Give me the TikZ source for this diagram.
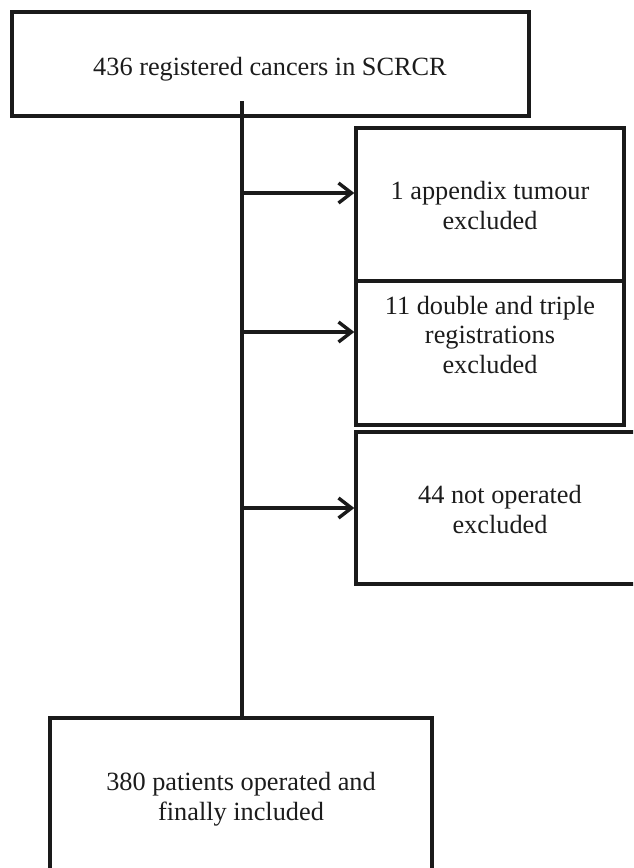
\documentclass[tikz,border=0pt]{standalone}
\usepackage{fontspec}
\setmainfont{Liberation Serif}
\usetikzlibrary{arrows.meta}
\definecolor{ink}{HTML}{1A1A1A}
\definecolor{textink}{HTML}{1C1C1C}
\begin{document}
\begin{tikzpicture}[x=1pt,y=-1pt,
  box/.style={draw=ink, line width=3.4pt, rectangle, inner sep=0pt, fill=white},
  txt/.style={font=\fontsize{26.3}{29.5}\selectfont, align=center, inner sep=0pt, text=textink},
  flow/.style={line width=3.4pt, draw=ink, -{Straight Barb[length=13pt,width=20pt,line width=3.4pt]}}]
\clip (0,0) rectangle (633,868);
\fill[white] (0,0) rectangle (633,868);
% boxes
\node[box, minimum width=517pt, minimum height=104pt] (top) at (270.5,64) {};
\node[box, minimum width=268pt, minimum height=153pt] (b1) at (490,204.5) {};
\node[box, minimum width=268pt, minimum height=144pt] (b2) at (490,353) {};
\node[box, minimum width=288pt, minimum height=152pt] (b3) at (500,508) {};
\node[box, minimum width=382pt, minimum height=182pt] (bot) at (241,809) {};
% texts (anchor = baseline of last line)
\node[txt, anchor=base] (ttop) at (270,75) {436 registered cancers in SCRCR};
\node[txt, anchor=base] (t1) at (490,229) {1 appendix tumour\\excluded};
\node[txt, anchor=base] (t2) at (490,373) {11 double and triple\\registrations\\excluded};
\node[txt, anchor=base] (t3) at (500,533) {44 not operated\\excluded};
\node[txt, anchor=base] (tbot) at (241,820) {380 patients operated and\\finally included};
% spine
\coordinate (vs) at (242,101);
\draw[line width=3.4pt, draw=ink] (vs) -- (vs |- bot.north);
\coordinate (a1) at (242,193);
\coordinate (a2) at (242,332);
\coordinate (a3) at (242,508);
\draw[flow] (a1) -- (a1 -| b1.west);
\draw[flow] (a2) -- (a2 -| b2.west);
\draw[flow] (a3) -- (a3 -| b3.west);
\end{tikzpicture}
\end{document}
